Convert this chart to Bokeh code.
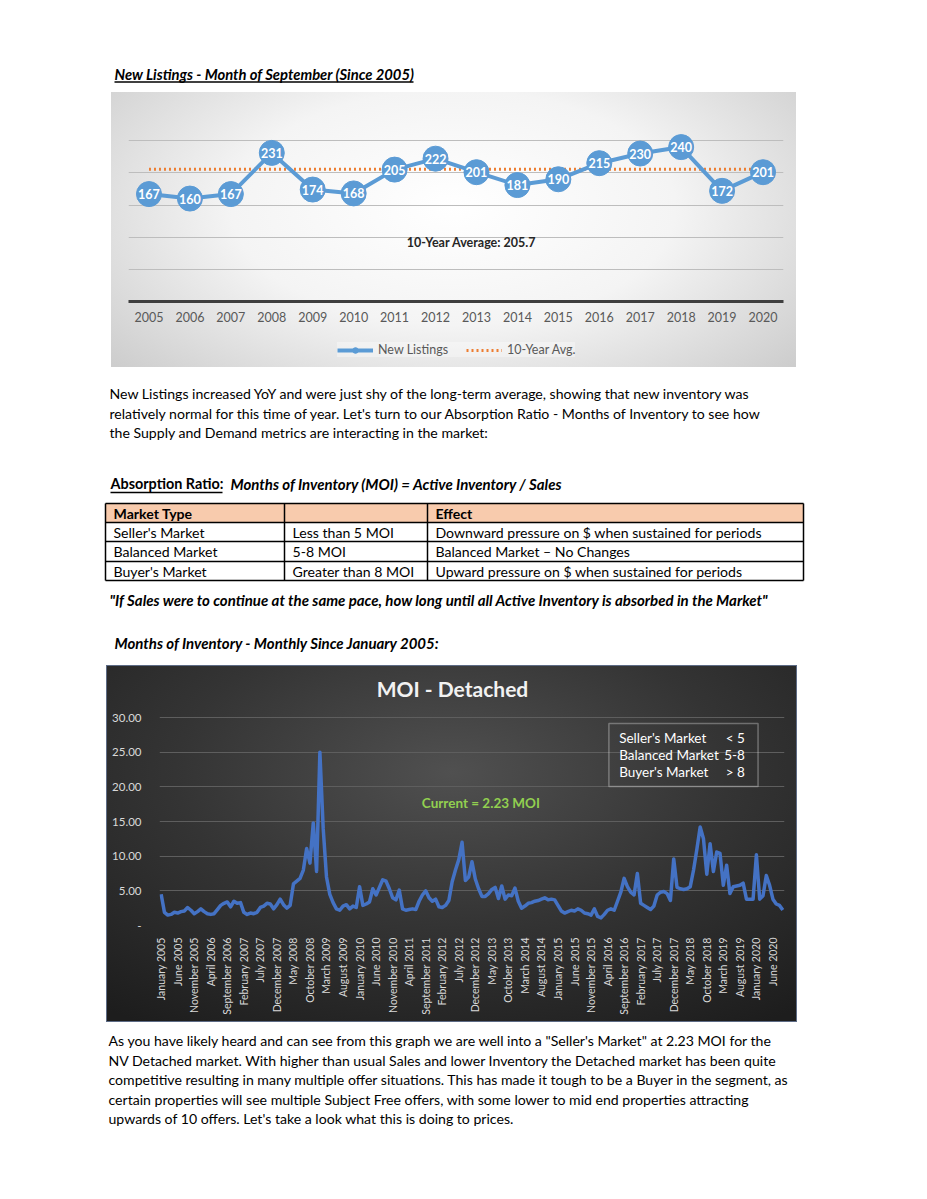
import math
from bokeh.plotting import figure
from bokeh.layouts import column
from bokeh.models import (Range1d, FactorRange, FixedTicker, Legend, LegendItem,
                          BoxAnnotation, NumeralTickFormatter)
from bokeh.core.properties import value
from bokeh.embed import file_html
from bokeh.resources import INLINE

FONT = "Lato"
PAGE_W = 927
# every figure in the column shares these side borders (the column aligns plot frames)
BORDER_L = 53
BORDER_R = 13

# ---------------- data ----------------
listing_years = ["2005", "2006", "2007", "2008", "2009", "2010", "2011", "2012",
                 "2013", "2014", "2015", "2016", "2017", "2018", "2019", "2020"]
new_listings = [167, 160, 167, 231, 174, 168, 205, 222, 201, 181, 190, 215, 230, 240, 172, 201]
ten_year_avg = 205.7
listing_y_ticks = [0, 50, 100, 150, 200, 250, 300]

month_names = ["January", "February", "March", "April", "May", "June", "July",
               "August", "September", "October", "November", "December"]
moi_years = ["2005", "2006", "2007", "2008", "2009", "2010", "2011", "2012",
             "2013", "2014", "2015", "2016", "2017", "2018", "2019", "2020"]
moi_values = [
    4.5, 1.9, 1.5, 1.6, 1.9, 1.8, 2.0, 2.1, 2.6, 2.2, 1.7, 2.0,      # 2005
    2.4, 2.0, 1.7, 1.6, 1.7, 2.3, 2.9, 3.2, 3.4, 2.7, 3.5, 3.2,      # 2006
    3.3, 1.9, 1.6, 1.8, 1.7, 1.9, 2.6, 2.8, 3.2, 3.1, 2.4, 3.0,      # 2007
    3.8, 3.0, 2.5, 2.9, 6.0, 6.4, 6.8, 8.0, 11.1, 9.0, 14.8, 7.8,    # 2008
    25.0, 14.0, 7.0, 4.5, 3.3, 2.4, 2.2, 2.8, 3.0, 2.4, 2.8, 2.6,    # 2009
    5.6, 2.9, 3.1, 3.4, 5.3, 4.4, 5.5, 6.6, 6.4, 5.3, 4.0, 3.7,      # 2010
    5.1, 2.4, 2.2, 2.3, 2.4, 2.3, 3.5, 4.4, 5.0, 4.0, 3.5, 3.8,      # 2011
    2.7, 2.6, 2.9, 3.6, 6.3, 8.0, 9.5, 12.0, 6.5, 7.0, 9.2, 6.7,     # 2012
    5.3, 4.2, 4.2, 4.6, 5.2, 5.5, 3.9, 5.7, 3.8, 4.4, 4.3, 5.4,      # 2013
    3.5, 2.5, 2.8, 3.2, 3.3, 3.5, 3.6, 3.8, 4.0, 3.7, 3.8, 3.7,      # 2014
    2.9, 2.1, 1.8, 2.0, 2.2, 2.1, 2.4, 2.2, 1.8, 1.7, 1.5, 2.4,      # 2015
    1.3, 1.1, 1.6, 2.2, 2.4, 2.2, 3.5, 4.8, 6.8, 5.6, 4.8, 4.4,      # 2016
    7.5, 3.2, 2.9, 2.6, 2.3, 2.8, 4.4, 4.8, 4.9, 4.6, 3.6, 9.6,      # 2017
    5.5, 5.3, 5.2, 5.3, 5.6, 8.0, 11.0, 14.2, 12.5, 7.4, 11.8, 7.8,  # 2018
    10.6, 10.4, 5.8, 8.7, 4.6, 5.6, 5.7, 5.8, 6.1, 3.8, 3.8, 3.8,    # 2019
    10.2, 3.8, 4.3, 7.2, 5.8, 3.8, 3.1, 2.9, 2.23,                    # 2020
]
moi_labels = [f"{m} {y}" for y in moi_years for m in month_names][:len(moi_values)]
moi_y_ticks = [0, 5, 10, 15, 20, 25, 30]
moi_label_step = 5
current_text = "Current = 2.23 MOI"
moi_legend_left = ["Seller's Market", "Balanced Market", "Buyer's Market"]
moi_legend_right = ["< 5", "5-8", "> 8"]

title_listings = "New Listings - Month of September (Since 2005)"
para1 = [
    "New Listings increased YoY and were just shy of the long-term average, showing that new inventory was",
    "relatively normal for this time of year. Let's turn to our Absorption Ratio - Months of Inventory to see how",
    "the Supply and Demand metrics are interacting in the market:",
]
heading_a = "Absorption Ratio:"
heading_b = "Months of Inventory (MOI) = Active Inventory / Sales"
table_header = ["Market Type", "", "Effect"]
table_rows = [
    ["Seller's Market", "Less than 5 MOI", "Downward pressure on $ when sustained for periods"],
    ["Balanced Market", "5-8 MOI", "Balanced Market \u2013 No Changes"],
    ["Buyer's Market", "Greater than 8 MOI", "Upward pressure on $ when sustained for periods"],
]
quote = "\"If Sales were to continue at the same pace, how long until all Active Inventory is absorbed in the Market\""
subheading = "Months of Inventory - Monthly Since January 2005:"
para2 = [
    "As you have likely heard and can see from this graph we are well into a \"Seller's Market\" at 2.23 MOI for the",
    "NV Detached market. With higher than usual Sales and lower Inventory the Detached market has been quite",
    "competitive resulting in many multiple offer situations. This has made it tough to be a Buyer in the segment, as",
    "certain properties will see multiple Subject Free offers, with some lower to mid end properties attracting",
    "upwards of 10 offers. Let's take a look what this is doing to prices.",
]

BODY_SIZE = "14.1px"
HEAD_SIZE = "15px"


# ---------------- helpers ----------------
def band(y0, y1):
    """A blank full-width strip of the page whose ranges are page pixels."""
    h = y1 - y0
    f = figure(width=PAGE_W, height=h,
               x_range=Range1d(BORDER_L, PAGE_W - BORDER_R), y_range=Range1d(y1, y0),
               output_backend="svg", toolbar_location=None,
               min_border_left=BORDER_L, min_border_right=BORDER_R,
               min_border_top=0, min_border_bottom=0,
               x_axis_location=None, y_axis_location=None)
    for g in f.grid:
        g.visible = False
    f.outline_line_color = None
    f.background_fill_color = "white"
    f.border_fill_color = "white"
    return f


def put(f, x, y, s, size=BODY_SIZE, style="normal", color="black", align="left"):
    f.text(x=[x], y=[y], text=[s], text_font=value(FONT), text_font_size=size,
           text_font_style=style, text_color=color, text_align=align, text_baseline="middle")


# ---------------- band A: title ----------------
fa = band(0, 92)
put(fa, 114, 73, title_listings, size="14.8px", style="bold italic")
fa.segment(x0=[114], y0=[81.5], x1=[413], y1=[81.5], line_color="black", line_width=1.3)

# ---------------- chart 1: new listings (plot part + legend strip) ----------------
p1_frame_w = 655
p1_left = 128 - BORDER_L
p1_w = BORDER_L + p1_frame_w + BORDER_R
p1_h = 241
legend_h = 275 - p1_h
grad1 = "radial-gradient(ellipse 72% 95% at 50% 42%, #ffffff 0%, #f4f4f4 45%, #c6c6c6 100%)"

p1 = figure(width=p1_w, height=p1_h,
            x_range=FactorRange(*listing_years),
            y_range=Range1d(listing_y_ticks[0], listing_y_ticks[-1]),
            output_backend="svg", toolbar_location=None,
            min_border_left=BORDER_L, min_border_right=BORDER_R,
            min_border_top=16, min_border_bottom=p1_h - 16 - 193)
p1.margin = (0, 0, 0, p1_left)
p1.styles = {"background": f"{grad1} 36px 0px / 685px 275px no-repeat, #ffffff"}
p1.border_fill_color = None
p1.background_fill_color = None
p1.outline_line_color = None
p1.yaxis.visible = False
p1.xgrid.visible = False
p1.ygrid.ticker = FixedTicker(ticks=listing_y_ticks)
p1.ygrid.grid_line_color = "#bdbdbd"
p1.ygrid.grid_line_width = 1
p1.xaxis.axis_line_color = "#3f3f3f"
p1.xaxis.axis_line_width = 3
p1.xaxis.major_tick_line_color = None
p1.xaxis.minor_tick_line_color = None
p1.xaxis.major_label_text_color = "#595959"
p1.xaxis.major_label_text_font = FONT
p1.xaxis.major_label_text_font_size = "12.5px"
p1.xaxis.major_label_standoff = 4

avg_style = dict(line_color="#ed7d31", line_width=3, line_dash="2 3")
nl_line_style = dict(line_color="#5b9bd5", line_width=4)
p1.line(listing_years, [ten_year_avg] * len(listing_years), **avg_style)
p1.line(listing_years, new_listings, **nl_line_style)
p1.scatter(listing_years, new_listings, size=25, fill_color="#5b9bd5", line_color="#5b9bd5")
p1.text(listing_years, new_listings, text=[str(v) for v in new_listings], text_color="white",
        text_font=value(FONT), text_font_style="bold", text_font_size="12.5px",
        text_align="center", text_baseline="middle")
p1.text(x=["2012"], y=[92], text=[f"10-Year Average: {ten_year_avg}"], x_offset=36,
        text_color="#262626", text_font=value(FONT), text_font_style="bold", text_font_size="12.5px",
        text_align="center", text_baseline="middle")

# legend strip: same box, continuing the same background; its renderers only carry
# the legend styling (NaN data draws nothing in the strip)
pl = figure(width=p1_w, height=legend_h, x_range=Range1d(0, 1), y_range=Range1d(0, 1),
            output_backend="svg", toolbar_location=None,
            min_border_left=BORDER_L, min_border_right=BORDER_R, min_border_top=0, min_border_bottom=0,
            x_axis_location=None, y_axis_location=None)
pl.margin = (0, 0, 0, p1_left)
pl.styles = {"background": f"{grad1} 36px -{p1_h}px / 685px 275px no-repeat, #ffffff"}
pl.border_fill_color = None
pl.background_fill_color = None
pl.outline_line_color = None
for g in pl.grid:
    g.visible = False
nan = float("nan")
lr_line = pl.line([nan], [nan], **nl_line_style)
lr_circ = pl.scatter([nan], [nan], size=8, fill_color="#5b9bd5", line_color="#5b9bd5")
lr_avg = pl.line([nan], [nan], **avg_style)
legend = Legend(items=[LegendItem(label="New Listings", renderers=[lr_line, lr_circ]),
                       LegendItem(label="10-Year Avg.", renderers=[lr_avg])],
                orientation="horizontal", location=(209, 10))
legend.label_text_color = "#595959"
legend.label_text_font = FONT
legend.label_text_font_size = "12.5px"
legend.glyph_width = 36
legend.glyph_height = 14
legend.spacing = 18
legend.padding = 5
legend.margin = 0
legend.background_fill_color = "white"
legend.background_fill_alpha = 0.35
legend.border_line_color = None
pl.add_layout(legend)

# ---------------- band C: text + table ----------------
fc = band(367, 665)
for i, line in enumerate(para1):
    put(fc, 109, 393 + i * 19.5, line)
put(fc, 110, 483, heading_a, size="14.4px", style="bold")
fc.segment(x0=[110], y0=[492], x1=[222], y1=[492], line_color="black", line_width=1.3)
put(fc, 230, 483, heading_b, size=HEAD_SIZE, style="bold italic")

row_y = [503, 522, 541, 561, 580]
col_x = [105, 284, 427, 803]
fc.quad(left=[col_x[0]], right=[col_x[-1]], top=[row_y[0]], bottom=[row_y[1]],
        fill_color="#f8cbad", line_color=None)
fc.multi_line(xs=[[col_x[0], col_x[-1]] for _ in row_y], ys=[[y, y] for y in row_y],
              line_color="black", line_width=1.5)
fc.multi_line(xs=[[x, x] for x in col_x], ys=[[row_y[0], row_y[-1]] for _ in col_x],
              line_color="black", line_width=1.5)
text_x = [113, 292, 435]
for j, h in enumerate(table_header):
    if h:
        put(fc, text_x[j], (row_y[0] + row_y[1]) / 2, h, style="bold")
for r, row in enumerate(table_rows):
    for j, cell in enumerate(row):
        put(fc, text_x[j], (row_y[r + 1] + row_y[r + 2]) / 2, cell)
put(fc, 109, 599, quote, size=HEAD_SIZE, style="bold italic")
put(fc, 114, 642, subheading, size=HEAD_SIZE, style="bold italic")

# ---------------- chart 2: MOI ----------------
idx = list(range(len(moi_values)))
p2_frame_w, p2_frame_h = 625, 260
y_top = moi_y_ticks[-1] * p2_frame_h / 208
p2 = figure(width=BORDER_L + p2_frame_w + BORDER_R, height=357,
            x_range=Range1d(-0.5, len(moi_values) - 0.5),
            y_range=Range1d(0, y_top), output_backend="svg", toolbar_location=None,
            min_border_left=BORDER_L, min_border_right=BORDER_R,
            min_border_top=0, min_border_bottom=357 - p2_frame_h)
p2.margin = (0, 0, 0, 159 - BORDER_L)
p2.styles = {"background": "radial-gradient(ellipse 80% 85% at 50% 30%, #505050 0%, #343434 50%, #1d1d1d 100%)",
             "outline": "1px solid #5d6b85", "outline-offset": "-1px"}
p2.border_fill_color = None
p2.background_fill_color = None
p2.outline_line_color = None
p2.xgrid.visible = False
p2.ygrid.ticker = FixedTicker(ticks=moi_y_ticks)
p2.ygrid.grid_line_color = "#5e5e5e"
p2.ygrid.grid_line_width = 1
p2.yaxis.ticker = FixedTicker(ticks=moi_y_ticks)
p2.yaxis.formatter = NumeralTickFormatter(format="0.00")
p2.yaxis.major_label_overrides = {0: "-"}
p2.yaxis.axis_line_color = None
p2.yaxis.major_tick_line_color = None
p2.yaxis.minor_tick_line_color = None
p2.yaxis.major_label_text_color = "#d9d9d9"
p2.yaxis.major_label_text_font = FONT
p2.yaxis.major_label_text_font_size = "11.5px"
p2.yaxis.major_label_standoff = 12
tick_idx = list(range(0, len(moi_values), moi_label_step))
p2.xaxis.ticker = FixedTicker(ticks=tick_idx)
p2.xaxis.major_label_overrides = {i: moi_labels[i] for i in tick_idx}
p2.xaxis.major_label_orientation = math.pi / 2
p2.xaxis.axis_line_color = None
p2.xaxis.major_tick_line_color = None
p2.xaxis.minor_tick_line_color = None
p2.xaxis.major_label_text_color = "#d9d9d9"
p2.xaxis.major_label_text_font = FONT
p2.xaxis.major_label_text_font_size = "10.5px"
p2.xaxis.major_label_standoff = 6

p2.line(idx, moi_values, line_color="#4472c4", line_width=3.5, line_join="round")

# chart title and annotations (inside the frame, above the 30.00 grid line)
p2.text(x=[88.1], y=[34.2], text=["MOI - Detached"], text_color="#f2f2f2", text_font=value(FONT),
        text_font_style="bold", text_font_size="21px", text_align="center", text_baseline="middle")
p2.text(x=[96.7], y=[17.6], text=[current_text], text_color="#92d050", text_font=value(FONT),
        text_font_style="bold", text_font_size="13.5px", text_align="center", text_baseline="middle")
p2.add_layout(BoxAnnotation(left=135.4, right=180.5, bottom=20.06, top=29.15,
                            fill_alpha=0, line_color="white", line_width=1.5))
for k, (a, b) in enumerate(zip(moi_legend_left, moi_legend_right)):
    yy = 27.1 - k * 2.5
    p2.text(x=[138.5], y=[yy], text=[a], text_color="white", text_font=value(FONT),
            text_font_size="13.5px", text_align="left", text_baseline="middle")
    p2.text(x=[176.5], y=[yy], text=[b], text_color="white", text_font=value(FONT),
            text_font_size="13.5px", text_align="right", text_baseline="middle")

# ---------------- band E: closing paragraph ----------------
fe = band(1022, 1199)
for i, line in enumerate(para2):
    put(fe, 108, 1040 + i * 19.5, line)

layout = column(fa, p1, pl, fc, p2, fe, spacing=0)
open("out.html", "w").write(file_html(layout, INLINE))
